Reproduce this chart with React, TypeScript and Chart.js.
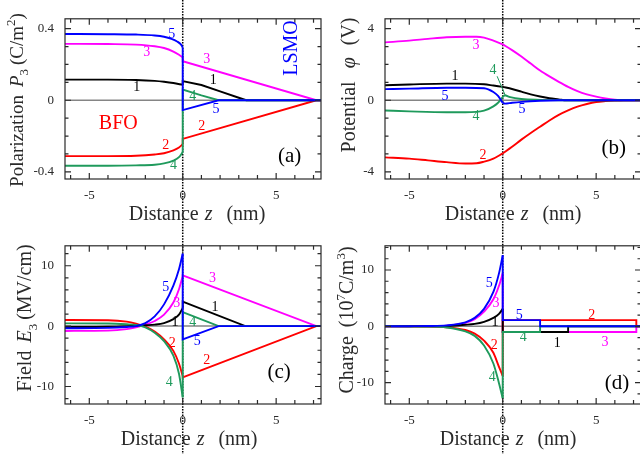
import React, { useEffect, useRef } from "react";
import { Chart, registerables } from "chart.js";
Chart.register(...registerables);

type P = [number, number][];

// ---------- shared axis values ----------
const X_RANGE = [-6.3, 7.4];
const X_TICKS = [-6, -5, -4, -3, -2, -1, 0, 1, 2, 3, 4, 5, 6, 7];
const X_LABELS = [-5, 0, 5];
const ZERO_LINE: P = [[-6.3, 0], [7.4, 0]];

// ---------- panel (a): polarization P3 (C/m^2) ----------
const A_Y_RANGE = [-0.44, 0.455];
const A_Y_TICKS = [-0.4, -0.3, -0.2, -0.1, 0, 0.1, 0.2, 0.3, 0.4];
const A_Y_LABELS = [-0.4, 0, 0.4];
const A5_L: P = [[-6.3, 0.37], [-4, 0.369], [-2.5, 0.367], [-1.5, 0.362], [-1, 0.355], [-0.6, 0.343], [-0.3, 0.328], [-0.1, 0.312], [0, 0.295]];
const A5_R: P = [[0, 0.295], [0, -0.055], [1.92, 0], [7.4, 0]];
const A4_L: P = [[-6.3, -0.366], [-4, -0.366], [-2.5, -0.364], [-1.5, -0.36], [-1, -0.353], [-0.5, -0.337], [-0.2, -0.318], [0, -0.29]];
const A4_R: P = [[0, -0.29], [0, 0.06], [1, 0.027], [1.92, 0], [7.4, 0]];
const A1_L: P = [[-6.3, 0.115], [-4, 0.115], [-2.5, 0.113], [-1.5, 0.108], [-1, 0.103], [-0.5, 0.096], [0, 0.086]];
const A1_R: P = [[0, 0.086], [0, 0.107], [1, 0.085], [2, 0.05], [3, 0.014], [3.4, 0], [7.4, 0]];
const A2_L: P = [[-6.3, -0.312], [-4, -0.312], [-2.5, -0.31], [-1.5, -0.303], [-1, -0.296], [-0.5, -0.28], [-0.2, -0.264], [0, -0.246]];
const A2_R: P = [[0, -0.246], [0, -0.216], [7.15, 0], [7.4, 0]];
const A3_L: P = [[-6.3, 0.315], [-4, 0.314], [-2.5, 0.311], [-1.5, 0.302], [-1, 0.292], [-0.5, 0.272], [-0.2, 0.254], [0, 0.24]];
const A3_R: P = [[0, 0.24], [0, 0.218], [7.15, 0], [7.4, 0]];

// ---------- panel (b): potential phi (V) ----------
const B_Y_RANGE = [-4.4, 4.55];
const B_Y_TICKS = [-4, -3, -2, -1, 0, 1, 2, 3, 4];
const B_Y_LABELS = [-4, 0, 4];
const B5_L: P = [[-6.3, 0.62], [-5, 0.65], [-3, 0.7], [-2, 0.7], [-1, 0.67], [-0.5, 0.46], [-0.25, 0.24], [0, -0.14]];
const B5_R: P = [[0, -0.14], [0.12, -0.19], [0.5, -0.14], [1, -0.09], [2, -0.03], [3, 0], [7.4, 0]];
const B4_L: P = [[-6.3, -0.57], [-5, -0.62], [-3, -0.67], [-2, -0.67], [-1, -0.58], [-0.5, -0.34], [-0.25, -0.14], [0, 0.17]];
const B4_R: P = [[0, 0.17], [0.1, 0.28], [0.4, 0.17], [1, 0.07], [2, 0.02], [3, 0], [7.4, 0]];
const B1_L: P = [[-6.3, 0.84], [-5, 0.88], [-3, 0.93], [-2, 0.93], [-1, 0.89], [-0.5, 0.82], [0, 0.75]];
const B1_R: P = [[0, 0.75], [0.5, 0.63], [1, 0.48], [1.5, 0.33], [2, 0.21], [2.5, 0.11], [3, 0.05], [3.4, 0], [7.4, 0]];
const B2_L: P = [[-6.3, -3.19], [-5, -3.26], [-4, -3.36], [-3, -3.46], [-2, -3.53], [-1.4, -3.52], [-1, -3.43], [-0.5, -3.26], [0, -2.97]];
const B2_R: P = [[0, -2.97], [0.5, -2.6], [1, -2.2], [1.5, -1.83], [2, -1.48], [2.5, -1.13], [3, -0.82], [3.5, -0.57], [4, -0.36], [4.5, -0.21], [5, -0.1], [5.5, -0.05], [6, -0.02], [6.5, 0], [7.4, 0]];
const B3_L: P = [[-6.3, 3.23], [-5, 3.33], [-4, 3.43], [-3, 3.52], [-2, 3.55], [-1.4, 3.55], [-1, 3.5], [-0.5, 3.33], [0, 3.12]];
const B3_R: P = [[0, 3.12], [0.5, 2.8], [1, 2.44], [1.5, 2.05], [2, 1.66], [2.5, 1.33], [3, 1.03], [3.5, 0.75], [4, 0.51], [4.5, 0.33], [5, 0.2], [5.5, 0.1], [6, 0.03], [6.5, 0], [7.4, 0]];

// ---------- panel (c): field E3 (MV/cm) ----------
const C_Y_RANGE = [-12.9, 13.3];
const C_Y_TICKS = [-12, -10, -8, -6, -4, -2, 0, 2, 4, 6, 8, 10, 12];
const C_Y_LABELS = [-10, 0, 10];
const C5_L: P = [[-6.3, -0.35], [-4, -0.3], [-3, -0.15], [-2.5, 0], [-2, 0.5], [-1.5, 1.6], [-1, 3.6], [-0.5, 6.7], [-0.2, 9.4], [0, 12]];
const C5_R: P = [[0, 12], [0, -2.2], [1.92, 0], [7.4, 0]];
const C4_L: P = [[-6.3, 0.45], [-4, 0.43], [-3, 0.3], [-2.5, 0.18], [-2, -0.2], [-1.5, -1.1], [-1, -2.5], [-0.5, -4.9], [-0.2, -7.9], [0, -11.8]];
const C4_R: P = [[0, -11.8], [0, 2.3], [1.92, 0], [7.4, 0]];
const C1_L: P = [[-6.3, -0.15], [-4, -0.1], [-3, 0], [-2, 0.15], [-1.5, 0.25], [-1, 0.5], [-0.5, 1.15], [-0.2, 1.9], [0, 3]];
const C1_R: P = [[0, 3], [0, 4.05], [3.35, 0], [7.4, 0]];
const C2_L: P = [[-6.3, 1.0], [-4, 0.98], [-3, 0.75], [-2.5, 0.4], [-2, -0.1], [-1.5, -0.9], [-1, -2.2], [-0.5, -4.1], [-0.2, -6.2], [0, -8.3]];
const C2_R: P = [[0, -8.3], [0, -8.5], [7.15, 0], [7.4, 0]];
const C3_L: P = [[-6.3, -0.8], [-4, -0.75], [-3, -0.5], [-2.5, -0.2], [-2, 0.25], [-1.5, 0.85], [-1, 1.9], [-0.5, 3.9], [-0.2, 6.1], [0, 8.3]];
const C3_R: P = [[0, 8.3], [0, 8.4], [7.15, 0], [7.4, 0]];

// ---------- panel (d): charge (10^7 C/m^3) ----------
const D_Y_RANGE = [-13.8, 14.3];
const D_Y_TICKS = [-12, -10, -8, -6, -4, -2, 0, 2, 4, 6, 8, 10, 12, 14];
const D_Y_LABELS = [-10, 0, 10];
const D5_L: P = [[-6.3, 0], [-5, 0.02], [-4, 0.05], [-3, 0.16], [-2, 0.7], [-1.5, 1.5], [-1, 3.1], [-0.5, 6.1], [-0.2, 9.4], [0, 12.6]];
const D5_R: P = [[0, 12.6], [0, 1.09], [2, 1.09], [2, 0], [7.4, 0]];
const D4_L: P = [[-6.3, 0], [-4, -0.05], [-3, -0.2], [-2, -0.9], [-1.5, -1.7], [-1, -3.4], [-0.5, -6.6], [-0.2, -10.1], [0, -12.8]];
const D4_R: P = [[0, -12.8], [0, -1], [2, -1], [2, 0], [7.4, 0]];
const D1_L: P = [[-6.3, 0], [-4, 0.01], [-3, 0.05], [-2, 0.27], [-1.5, 0.43], [-1, 0.8], [-0.5, 1.5], [-0.2, 2.2], [0, 3.1]];
const D1_R: P = [[0, 3.1], [0, -1], [3.5, -1], [3.5, 0], [7.4, 0]];
const D2_L: P = [[-6.3, 0], [-4, -0.03], [-3, -0.16], [-2, -0.65], [-1.5, -1.3], [-1, -2.55], [-0.5, -4.7], [-0.2, -7.2], [0, -8.8]];
const D2_R: P = [[0, -8.8], [0, 1.09], [7.15, 1.09], [7.15, 0], [7.4, 0]];
const D3_L: P = [[-6.3, 0], [-4, 0.03], [-3, 0.12], [-2, 0.6], [-1.5, 1.25], [-1, 2.6], [-0.5, 4.8], [-0.2, 7.2], [0, 9.4]];
const D3_R: P = [[0, 9.4], [0, -1], [7.15, -1], [7.15, 0], [7.4, 0]];

// ---------- curve labels (text, x, y, colour key) ----------
type Lab = { t: string; x: number; y: number; c: string; s?: number; rot?: boolean };
const A_TEXT: Lab[] = [
  { t: "5", x: -0.59, y: 0.368, c: "b" }, { t: "3", x: -1.93, y: 0.27, c: "m" },
  { t: "3", x: 1.29, y: 0.227, c: "m" }, { t: "1", x: -2.46, y: 0.072, c: "k" },
  { t: "1", x: 1.64, y: 0.11, c: "k" }, { t: "4", x: 0.54, y: 0.021, c: "g" },
  { t: "5", x: 1.78, y: -0.053, c: "b" }, { t: "2", x: 1.02, y: -0.143, c: "r" },
  { t: "2", x: -0.91, y: -0.251, c: "r" }, { t: "4", x: -0.5, y: -0.363, c: "g" },
  { t: "BFO", x: -3.45, y: -0.13, c: "r", s: 20 },
  { t: "LSMO", x: 5.85, y: 0.292, c: "b", s: 20, rot: true },
  { t: "(a)", x: 5.72, y: -0.315, c: "k", s: 21 },
];
const B_TEXT: Lab[] = [
  { t: "3", x: -1.43, y: 3.05, c: "m" }, { t: "1", x: -2.55, y: 1.33, c: "k" },
  { t: "4", x: -0.52, y: 1.65, c: "g" }, { t: "5", x: -3.09, y: 0.24, c: "b" },
  { t: "5", x: 1.03, y: -0.52, c: "b" }, { t: "4", x: -1.43, y: -0.88, c: "g" },
  { t: "2", x: -1.06, y: -3.1, c: "r" }, { t: "(b)", x: 5.94, y: -2.68, c: "k", s: 21 },
];
const B_POINTER: P = [[-0.3, 1.34], [0.12, 0.31]];
const C_TEXT: Lab[] = [
  { t: "5", x: -0.91, y: 6.4, c: "b" }, { t: "3", x: -0.32, y: 3.8, c: "m" },
  { t: "1", x: -0.41, y: 0.7, c: "k" }, { t: "1", x: 1.73, y: 3.03, c: "k" },
  { t: "3", x: 1.59, y: 7.9, c: "m" }, { t: "4", x: 0.54, y: 0.7, c: "g" },
  { t: "5", x: 0.78, y: -2.58, c: "b" }, { t: "2", x: -0.56, y: -2.83, c: "r" },
  { t: "2", x: 1.29, y: -5.6, c: "r" }, { t: "4", x: -0.72, y: -9.24, c: "g" },
  { t: "(c)", x: 5.16, y: -7.7, c: "k", s: 21 },
];
const D_TEXT: Lab[] = [
  { t: "5", x: -0.72, y: 7.7, c: "b" }, { t: "3", x: -0.36, y: 4.07, c: "m" },
  { t: "1", x: -0.41, y: 0.76, c: "k" }, { t: "2", x: -0.45, y: -3.41, c: "r" },
  { t: "4", x: -0.56, y: -9.1, c: "g" }, { t: "5", x: 0.89, y: 1.9, c: "b" },
  { t: "2", x: 4.77, y: 2.0, c: "r" }, { t: "4", x: 1.1, y: -1.95, c: "g" },
  { t: "1", x: 2.92, y: -2.98, c: "k" }, { t: "3", x: 5.48, y: -2.76, c: "m" },
  { t: "(d)", x: 6.12, y: -10.1, c: "k", s: 21 },
];

// ---------- styling ----------
const COL: Record<string, string> = { k: "#000000", r: "#ff0000", m: "#ff00ff", g: "#1f9a5c", b: "#0000ff" };
const GRAY = "#858585";
const INK = "#2a2a2a";
const FAM = '"Liberation Serif", "Times New Roman", Times, serif';

type Seg = { t: string; i?: boolean; sub?: boolean; sup?: boolean; gap?: number };
const X_TITLE: Seg[] = [{ t: "Distance", gap: 6 }, { t: "z", i: true, gap: 14 }, { t: "(nm)" }];
const A_TITLE: Seg[] = [{ t: "Polarization", gap: 8 }, { t: "P", i: true }, { t: "3", sub: true, gap: 4 }, { t: "(C/m" }, { t: "2", sup: true }, { t: ")" }];
const B_TITLE: Seg[] = [{ t: "Potential", gap: 13 }, { t: "φ", i: true, gap: 12 }, { t: "(V)" }];
const C_TITLE: Seg[] = [{ t: "Field", gap: 8 }, { t: "E", i: true }, { t: "3", sub: true, gap: 4 }, { t: "(MV/cm)" }];
const D_TITLE: Seg[] = [{ t: "Charge", gap: 9 }, { t: "(10" }, { t: "7", sup: true }, { t: "C/m" }, { t: "3", sup: true }, { t: ")" }];

function drawRich(ctx: CanvasRenderingContext2D, segs: Seg[], cx: number, base: number, size: number, rotate: boolean) {
  ctx.save();
  ctx.translate(cx, base);
  if (rotate) ctx.rotate(-Math.PI / 2);
  const fontOf = (s: Seg) => `${s.i ? "italic " : ""}${s.sub || s.sup ? Math.round(size * 0.66) : size}px ${FAM}`;
  let total = 0;
  const w = segs.map((s) => {
    ctx.font = fontOf(s);
    const ww = ctx.measureText(s.t).width + (s.gap || 0);
    total += ww;
    return ww;
  });
  let x = -total / 2;
  ctx.fillStyle = INK;
  ctx.textAlign = "left";
  ctx.textBaseline = "alphabetic";
  segs.forEach((s, k) => {
    ctx.font = fontOf(s);
    const dy = s.sub ? size * 0.28 : s.sup ? -size * 0.42 : 0;
    ctx.fillText(s.t, x, dy);
    x += w[k];
  });
  ctx.restore();
}

type Curve = { L: P; R: P; c: string };
type Panel = {
  left: number; top: number; w: number; h: number; padTop: number; xH: number;
  yRange: number[]; yTicks: number[]; yLabels: number[]; smoothR: boolean;
  curves: Curve[]; text: Lab[]; title: Seg[]; titleX: number; titleY: number; titleSize: number;
  xTitleX: number; xTitleY: number; pointer?: P;
};

const PANELS: Panel[] = [
  {
    left: 0, top: 0, w: 322, h: 227, padTop: 6, xH: 48, yRange: A_Y_RANGE, yTicks: A_Y_TICKS, yLabels: A_Y_LABELS, smoothR: false,
    curves: [{ L: A5_L, R: A5_R, c: "b" }, { L: A4_L, R: A4_R, c: "g" }, { L: A1_L, R: A1_R, c: "k" }, { L: A2_L, R: A2_R, c: "r" }, { L: A3_L, R: A3_R, c: "m" }],
    text: A_TEXT, title: A_TITLE, titleX: 23, titleY: 100, titleSize: 19, xTitleX: 197, xTitleY: 220,
  },
  {
    left: 320, top: 0, w: 322, h: 227, padTop: 6, xH: 48, yRange: B_Y_RANGE, yTicks: B_Y_TICKS, yLabels: B_Y_LABELS, smoothR: true,
    curves: [{ L: B5_L, R: B5_R, c: "b" }, { L: B4_L, R: B4_R, c: "g" }, { L: B1_L, R: B1_R, c: "k" }, { L: B2_L, R: B2_R, c: "r" }, { L: B3_L, R: B3_R, c: "m" }],
    text: B_TEXT, title: B_TITLE, titleX: 35, titleY: 85, titleSize: 20, xTitleX: 193, xTitleY: 220, pointer: B_POINTER,
  },
  {
    left: 0, top: 227, w: 322, h: 227, padTop: 4, xH: 50, yRange: C_Y_RANGE, yTicks: C_Y_TICKS, yLabels: C_Y_LABELS, smoothR: false,
    curves: [{ L: C5_L, R: C5_R, c: "b" }, { L: C4_L, R: C4_R, c: "g" }, { L: C1_L, R: C1_R, c: "k" }, { L: C2_L, R: C2_R, c: "r" }, { L: C3_L, R: C3_R, c: "m" }],
    text: C_TEXT, title: C_TITLE, titleX: 31, titleY: 91, titleSize: 20, xTitleX: 189, xTitleY: 218,
  },
  {
    left: 320, top: 227, w: 322, h: 227, padTop: 4, xH: 50, yRange: D_Y_RANGE, yTicks: D_Y_TICKS, yLabels: D_Y_LABELS, smoothR: false,
    curves: [{ L: D5_L, R: D5_R, c: "b" }, { L: D4_L, R: D4_R, c: "g" }, { L: D1_L, R: D1_R, c: "k" }, { L: D2_L, R: D2_R, c: "r" }, { L: D3_L, R: D3_R, c: "m" }],
    text: D_TEXT, title: D_TITLE, titleX: 33, titleY: 93, titleSize: 20, xTitleX: 188, xTitleY: 218,
  },
];

function lineDs(points: P, color: string, smooth: boolean, width = 1.9) {
  return {
    data: points.map(([x, y]) => ({ x, y })),
    borderColor: color,
    backgroundColor: color,
    borderWidth: width,
    pointRadius: 0,
    fill: false,
    tension: 0,
    cubicInterpolationMode: smooth ? "monotone" : "default",
    borderJoinStyle: "miter",
  };
}

function framePlugin(p: Panel) {
  return {
    id: "frame",
    beforeDatasetsDraw(chart: any) {
      const { ctx } = chart;
      const x0 = chart.scales.x.getPixelForValue(0);
      ctx.save();
      ctx.strokeStyle = "#000";
      ctx.lineWidth = 1.5;
      ctx.setLineDash([1.5, 1.3]);
      ctx.beginPath();
      ctx.moveTo(x0, 0);
      ctx.lineTo(x0, chart.height);
      ctx.stroke();
      ctx.restore();
    },
    afterDatasetsDraw(chart: any) {
      const { ctx, chartArea: a } = chart;
      const xs = chart.scales.x, ys = chart.scales.y;
      ctx.save();
      ctx.strokeStyle = INK;
      ctx.lineWidth = 1.2;
      ctx.strokeRect(a.left, a.top, a.right - a.left, a.bottom - a.top);
      ctx.beginPath();
      for (const v of X_TICKS) {
        const px = xs.getPixelForValue(v);
        const L = X_LABELS.includes(v) ? 6 : 4;
        ctx.moveTo(px, a.bottom); ctx.lineTo(px, a.bottom - L);
        ctx.moveTo(px, a.top); ctx.lineTo(px, a.top + L);
      }
      for (const v of p.yTicks) {
        const py = ys.getPixelForValue(v);
        const L = p.yLabels.includes(v) ? 6 : 3.5;
        ctx.moveTo(a.left, py); ctx.lineTo(a.left + L, py);
        ctx.moveTo(a.right, py); ctx.lineTo(a.right - L, py);
      }
      ctx.stroke();
      if (p.pointer) {
        ctx.strokeStyle = COL.g;
        ctx.lineWidth = 1;
        ctx.beginPath();
        ctx.moveTo(xs.getPixelForValue(p.pointer[0][0]), ys.getPixelForValue(p.pointer[0][1]));
        ctx.lineTo(xs.getPixelForValue(p.pointer[1][0]), ys.getPixelForValue(p.pointer[1][1]));
        ctx.stroke();
      }
      ctx.textAlign = "center";
      ctx.textBaseline = "middle";
      for (const lb of p.text) {
        ctx.save();
        ctx.fillStyle = COL[lb.c];
        ctx.font = `${lb.s || 14}px ${FAM}`;
        ctx.translate(xs.getPixelForValue(lb.x), ys.getPixelForValue(lb.y));
        if (lb.rot) ctx.rotate(-Math.PI / 2);
        ctx.fillText(lb.t, 0, 0);
        ctx.restore();
      }
      ctx.restore();
      drawRich(ctx, p.title, p.titleX, p.titleY, p.titleSize, true);
      drawRich(ctx, X_TITLE, p.xTitleX, p.xTitleY, 20, false);
    },
  };
}

function makeChart(canvas: HTMLCanvasElement, p: Panel) {
  const datasets: any[] = [];
  for (const cv of p.curves) {
    datasets.push(lineDs(cv.L, COL[cv.c], true));
    datasets.push(lineDs(cv.R, COL[cv.c], p.smoothR));
  }
  datasets.push(lineDs(ZERO_LINE, GRAY, false, 1.5));
  const tickFont = { family: FAM, size: 13 };
  return new Chart(canvas, {
    type: "line",
    data: { datasets },
    options: {
      animation: false,
      responsive: false,
      events: [],
      layout: { padding: { top: p.padTop, right: 1, left: 0, bottom: 0 } },
      plugins: { legend: { display: false }, tooltip: { enabled: false }, title: { display: false } },
      scales: {
        x: {
          type: "linear", min: X_RANGE[0], max: X_RANGE[1],
          afterFit: (s: any) => { s.height = p.xH; },
          afterBuildTicks: (s: any) => { s.ticks = X_LABELS.map((v) => ({ value: v })); },
          grid: { display: false, drawTicks: false }, border: { display: false },
          ticks: { font: tickFont, color: INK, padding: 9, maxRotation: 0, autoSkip: false, callback: (v: any) => String(v) },
        },
        y: {
          type: "linear", min: p.yRange[0], max: p.yRange[1],
          afterFit: (s: any) => { s.width = 65; },
          afterBuildTicks: (s: any) => { s.ticks = p.yLabels.map((v) => ({ value: v })); },
          grid: { display: false, drawTicks: false }, border: { display: false },
          ticks: { font: tickFont, color: INK, padding: 11, autoSkip: false, callback: (v: any) => String(v) },
        },
      },
    } as any,
    plugins: [framePlugin(p)],
  });
}

export default function App() {
  const refs = useRef<(HTMLCanvasElement | null)[]>([]);
  useEffect(() => {
    const charts = PANELS.map((p, i) => makeChart(refs.current[i] as HTMLCanvasElement, p));
    return () => charts.forEach((c) => c.destroy());
  }, []);
  return (
    <div style={{ position: "absolute", left: 0, top: 0, width: 640, height: 454, overflow: "hidden", background: "#fff" }}>
      {PANELS.map((p, i) => (
        <canvas
          key={i}
          ref={(el) => { refs.current[i] = el; }}
          width={p.w}
          height={p.h}
          style={{ position: "absolute", left: p.left, top: p.top, width: p.w, height: p.h, display: "block" }}
        />
      ))}
    </div>
  );
}
